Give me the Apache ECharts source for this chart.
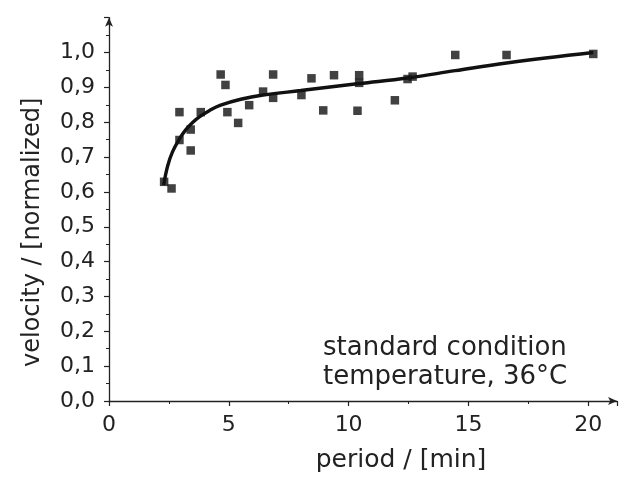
<!DOCTYPE html>
<html>
<head>
<meta charset="utf-8">
<script src="https://cdn.jsdelivr.net/npm/echarts@6/dist/echarts.min.js"></script>
<style>html,body{margin:0;padding:0;background:#fff}#c{width:619px;height:478px}</style>
</head>
<body>
<div id="c"></div>
<script>
// measured points (period in min, normalized velocity)
var periods = [2.30, 2.61, 2.94, 2.94, 3.41, 3.41, 3.83, 4.66, 4.86, 4.94, 5.39, 5.85, 6.43, 6.85, 6.85, 8.03, 8.45, 8.94, 9.39, 10.37, 10.44, 10.44, 11.93, 12.46, 12.67, 14.45, 16.59, 20.21];
var velocities = [0.629, 0.610, 0.829, 0.749, 0.779, 0.719, 0.829, 0.937, 0.907, 0.829, 0.798, 0.849, 0.888, 0.937, 0.870, 0.878, 0.926, 0.834, 0.935, 0.833, 0.935, 0.913, 0.863, 0.924, 0.931, 0.993, 0.993, 0.996];
// fitted curve
var fitPeriods = [2.28, 2.45, 2.65, 2.94, 3.2, 3.5, 3.83, 4.2, 4.66, 5.5, 6.43, 8.0, 10.44, 12.46, 14.45, 16.59, 20.21];
var fitVelocities = [0.62, 0.675, 0.715, 0.752, 0.778, 0.80, 0.818, 0.834, 0.849, 0.866, 0.878, 0.891, 0.911, 0.927, 0.948, 0.970, 1.0];
var xTicks = [0, 5, 10, 15, 20];
var annotation = ['standard condition', 'temperature, 36\u00b0C'];
var xName = 'period / [min]';
var yName = 'velocity / [normalized]';

var pts = periods.map(function (p, i) { return [p, velocities[i]]; });
var fit = fitPeriods.map(function (p, i) { return [p, fitVelocities[i]]; });
var FONT = 'DejaVu Sans';
var INK = '#222';

var chart = echarts.init(document.getElementById('c'), null, {renderer: 'canvas'});
chart.setOption({
  animation: false,
  backgroundColor: '#fff',
  grid: {left: 109, right: 2, top: 17.7, bottom: 75.3, containLabel: false},
  title: {
    text: annotation.join('\n'),
    left: 318, top: 329,
    textStyle: {fontFamily: FONT, fontSize: 26, fontWeight: 'normal', color: INK, lineHeight: 29}
  },
  xAxis: {
    type: 'value', min: 0, max: 21.2, interval: 5,
    name: xName, nameLocation: 'middle', nameGap: 47,
    nameTextStyle: {fontFamily: FONT, fontSize: 25, color: INK, padding: [0, 0, 0, 76]},
    axisLine: {show: true, symbol: ['none', 'arrow'], symbolSize: [6, 9], lineStyle: {color: INK, width: 1.3}},
    axisTick: {show: true, inside: false, length: 5, lineStyle: {color: INK, width: 1.2}},
    minorTick: {show: true, splitNumber: 2, length: 3, lineStyle: {color: INK, width: 1}},
    splitLine: {show: false},
    axisLabel: {
      margin: 13, fontFamily: FONT, fontSize: 22, color: INK, showMaxLabel: false,
      formatter: function (v) { return xTicks.indexOf(Math.round(v * 100) / 100) >= 0 ? String(v) : ''; }
    }
  },
  yAxis: {
    type: 'value', min: 0, max: 1.1, interval: 0.1,
    name: yName, nameLocation: 'middle', nameGap: 64, nameRotate: 90,
    nameTextStyle: {fontFamily: FONT, fontSize: 24, color: INK, padding: [0, 46, 0, 0]},
    axisLine: {show: true, symbol: ['none', 'arrow'], symbolSize: [6, 9], lineStyle: {color: INK, width: 1.3}},
    axisTick: {show: true, inside: false, length: 5, lineStyle: {color: INK, width: 1.2}},
    minorTick: {show: true, splitNumber: 2, length: 3, lineStyle: {color: INK, width: 1}},
    splitLine: {show: false},
    axisLabel: {
      margin: 14, fontFamily: FONT, fontSize: 22, color: INK, showMaxLabel: false,
      formatter: function (v) { return v > 1.001 ? '' : v.toFixed(1).replace('.', ','); }
    }
  },
  series: [
    {
      type: 'line', data: fit, smooth: 0.4, showSymbol: false, symbol: 'none',
      lineStyle: {color: '#111', width: 3.4}, z: 2
    },
    {
      type: 'scatter', data: pts, symbol: 'rect', symbolSize: 8.5,
      itemStyle: {color: '#111'}, z: 3
    }
  ]
});
</script>
</body>
</html>
